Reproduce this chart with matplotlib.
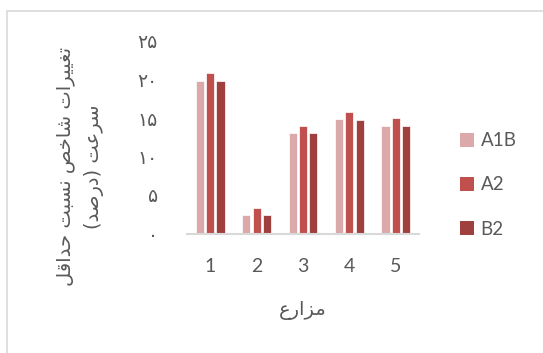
import matplotlib
matplotlib.use("Agg")
import matplotlib.pyplot as plt
from matplotlib.patches import Rectangle, Patch

# ---- data ----
farms = ["1", "2", "3", "4", "5"]
series_names = ["A1B", "A2", "B2"]
a1b = [19.8, 2.4, 13.0, 14.9, 13.9]
a2 = [20.8, 3.3, 14.0, 15.8, 15.0]
b2 = [19.8, 2.4, 13.0, 14.8, 13.9]
y_ticks = [0, 5, 10, 15, 20, 25]
y_tick_labels = ["۰", "۵", "۱۰", "۱۵", "۲۰", "۲۵"]
x_title = "مزارع"
y_title = "تغییرات شاخص نسبت حداقل\nسرعت (درصد)"

colors = ["#DBA9A9", "#C0504D", "#A0403E"]
text_gray = "#595959"

# ---- minimal Arabic-script shaping (presentation forms + visual order) ----
FORMS = {
    "ا": ("\uFE8D", "\uFE8E", None, None),
    "ب": ("\uFE8F", "\uFE90", "\uFE91", "\uFE92"),
    "ت": ("\uFE95", "\uFE96", "\uFE97", "\uFE98"),
    "ح": ("\uFEA1", "\uFEA2", "\uFEA3", "\uFEA4"),
    "خ": ("\uFEA5", "\uFEA6", "\uFEA7", "\uFEA8"),
    "د": ("\uFEA9", "\uFEAA", None, None),
    "ر": ("\uFEAD", "\uFEAE", None, None),
    "ز": ("\uFEAF", "\uFEB0", None, None),
    "س": ("\uFEB1", "\uFEB2", "\uFEB3", "\uFEB4"),
    "ش": ("\uFEB5", "\uFEB6", "\uFEB7", "\uFEB8"),
    "ص": ("\uFEB9", "\uFEBA", "\uFEBB", "\uFEBC"),
    "ع": ("\uFEC9", "\uFECA", "\uFECB", "\uFECC"),
    "غ": ("\uFECD", "\uFECE", "\uFECF", "\uFED0"),
    "ق": ("\uFED5", "\uFED6", "\uFED7", "\uFED8"),
    "ل": ("\uFEDD", "\uFEDE", "\uFEDF", "\uFEE0"),
    "م": ("\uFEE1", "\uFEE2", "\uFEE3", "\uFEE4"),
    "ن": ("\uFEE5", "\uFEE6", "\uFEE7", "\uFEE8"),
    "ی": ("\uFBFC", "\uFBFD", "\uFEF3", "\uFEF4"),
}


def _dual(ch):
    return ch in FORMS and FORMS[ch][2] is not None


def shape_line(s):
    out = []
    for i, ch in enumerate(s):
        if ch not in FORMS:
            out.append(ch)
            continue
        prev = s[i - 1] if i > 0 else ""
        nxt = s[i + 1] if i + 1 < len(s) else ""
        join_prev = _dual(prev)
        join_next = _dual(ch) and nxt in FORMS
        iso, fin, ini, med = FORMS[ch]
        if join_prev and join_next:
            out.append(med)
        elif join_prev:
            out.append(fin)
        elif join_next:
            out.append(ini)
        else:
            out.append(iso)
    vis = "".join(reversed(out))
    return vis.translate(str.maketrans("()", ")("))


def shape(s):
    return "\n".join(shape_line(line) for line in s.split("\n"))


latin = ["Lato", "DejaVu Sans"]
arabic = ["DejaVu Sans"]

W, H = 543, 353
fig = plt.figure(figsize=(W / 100, H / 100), dpi=100)
fig.patch.set_facecolor("white")

# outer chart frame
fig.patches.append(Rectangle((6.5 / W, -0.1), 2.0, 1 - 10.5 / H + 0.1,
                             transform=fig.transFigure, fill=False,
                             edgecolor="#D9D9D9", linewidth=1.2))

ax = fig.add_axes([187 / W, 1 - 233.5 / H, 232 / W, 192.5 / H])

x = list(range(len(farms)))
width = 0.175
offsets = [-0.222, 0.0, 0.222]
for vals, off, col, name in zip([a1b, a2, b2], offsets, colors, series_names):
    ax.bar([xi + off for xi in x], vals, width=width, color=col,
           edgecolor="white", linewidth=0.5, label=name, zorder=2)

ax.set_xlim(-0.5, len(farms) - 0.5)
ax.set_ylim(0, 25)
ax.set_xticks(x)
ax.set_xticklabels(farms, fontfamily=latin, fontsize=14, color=text_gray)
ax.set_yticks(y_ticks)
ax.set_yticklabels(y_tick_labels, fontfamily=arabic, fontsize=13.5, color=text_gray)
ax.tick_params(axis="x", length=0, pad=18)
ax.tick_params(axis="y", length=0, pad=21)

for side in ["top", "right", "left"]:
    ax.spines[side].set_visible(False)
ax.spines["bottom"].set_color("#D9D9D9")
ax.spines["bottom"].set_linewidth(1.5)

ax.set_xlabel(shape(x_title), fontfamily=arabic, fontsize=14, color=text_gray)
ax.xaxis.set_label_coords(0.5, (233.5 - 310) / 192.5)
ax.xaxis.label.set_va("center")

ax.set_ylabel(shape(y_title), fontfamily=arabic, fontsize=14, color=text_gray,
              multialignment="center", linespacing=1.65)
ax.yaxis.set_label_coords((80 - 187) / 232, (233.5 - 167) / 192.5)
ax.yaxis.label.set_va("center")

handles = [Patch(facecolor=c, edgecolor="none") for c in colors]
fig.legend(handles, series_names, loc="center left",
           bbox_to_anchor=(460 / W, 1 - 185 / H), frameon=False,
           prop={"family": latin, "size": 13.5}, labelcolor=text_gray,
           handlelength=0.75, handleheight=0.75, handletextpad=0.35,
           labelspacing=1.45, borderpad=0, borderaxespad=0)

fig.savefig("out.png", dpi=100, facecolor="white")
